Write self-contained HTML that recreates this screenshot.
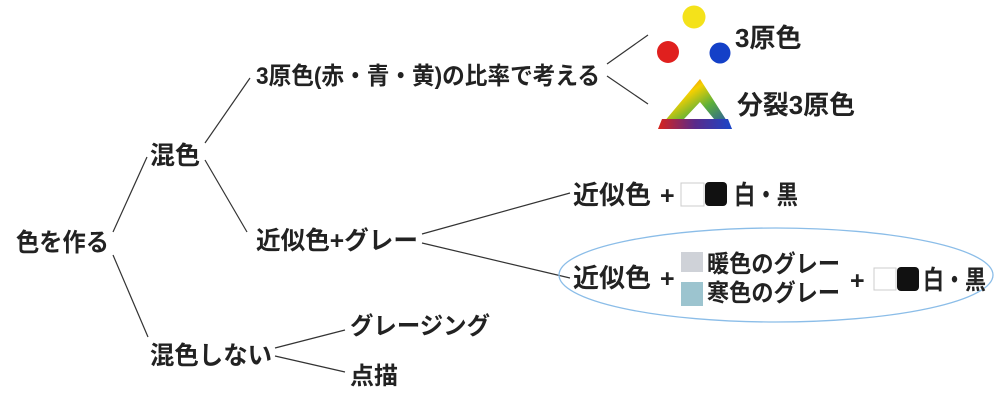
<!DOCTYPE html>
<html><head><meta charset="utf-8"><style>
html,body{margin:0;padding:0;background:#fff;width:1000px;height:401px;overflow:hidden}
svg{display:block}
text{font-family:"Liberation Sans","Noto Sans CJK JP",sans-serif;font-weight:bold;fill:#222}
</style></head><body>
<svg width="1000" height="401" viewBox="0 0 1000 401" xmlns="http://www.w3.org/2000/svg">
<defs>
<linearGradient id="tg" x1="0" y1="0" x2="1" y2="1">
<stop offset="0" stop-color="#e8201c"/><stop offset="0.35" stop-color="#f5d000"/><stop offset="0.6" stop-color="#5bb03a"/><stop offset="1" stop-color="#1a3fbf"/>
</linearGradient>
<linearGradient id="tb" x1="0" y1="0" x2="1" y2="0">
<stop offset="0" stop-color="#d8241c"/><stop offset="0.5" stop-color="#5a2a8a"/><stop offset="1" stop-color="#1a46c8"/>
</linearGradient>
</defs>
<g stroke="#333" stroke-width="1.2" fill="none">
<line x1="113" y1="232" x2="147" y2="157"/>
<line x1="113" y1="255" x2="148" y2="337"/>
<line x1="205" y1="143" x2="250" y2="78"/>
<line x1="205" y1="160" x2="247" y2="232"/>
<line x1="422" y1="234" x2="570" y2="193"/>
<line x1="422" y1="243" x2="570" y2="278"/>
<line x1="275" y1="348" x2="345" y2="330"/>
<line x1="275" y1="356" x2="345" y2="372"/>
<line x1="607" y1="64" x2="648" y2="35"/>
<line x1="607" y1="76" x2="648" y2="104"/>
</g>
<ellipse cx="776" cy="275" rx="217" ry="47" fill="none" stroke="#8bbde8" stroke-width="1.3"/>
<circle cx="694" cy="17" r="11.5" fill="#f4e21a"/>
<circle cx="668" cy="52" r="11" fill="#e0201e"/>
<circle cx="720" cy="53" r="10.5" fill="#1440c8"/>
<path d="M700 79 L732 129 L658 129 Z M700 102 L714 119 L684 119 Z" fill="url(#tg)" fill-rule="evenodd"/>
<path d="M662 119 L728 119 L732 129 L658 129 Z" fill="url(#tb)"/>
<text x="16" y="251" font-size="25" textLength="93" lengthAdjust="spacingAndGlyphs">色を作る</text>
<text x="150" y="164" font-size="25">混色</text>
<text x="150" y="364" font-size="25" textLength="122" lengthAdjust="spacingAndGlyphs">混色しない</text>
<text x="256" y="84" font-size="24" textLength="344" lengthAdjust="spacingAndGlyphs">3原色(赤・青・黄)の比率で考える</text>
<text x="256" y="249" font-size="25" textLength="162" lengthAdjust="spacingAndGlyphs">近似色+グレー</text>
<text x="350" y="334" font-size="24" textLength="140" lengthAdjust="spacingAndGlyphs">グレージング</text>
<text x="350" y="384" font-size="24">点描</text>
<text x="735" y="47" font-size="26">3原色</text>
<text x="737" y="114" font-size="26" textLength="118" lengthAdjust="spacingAndGlyphs">分裂3原色</text>
<text x="573" y="204" font-size="26">近似色</text>
<text x="660" y="204" font-size="25">+</text>
<rect x="681" y="183" width="23" height="23" fill="#fff" stroke="#ccc"/>
<rect x="705" y="182" width="22" height="24" rx="4" fill="#111"/>
<text x="734" y="204" font-size="26" textLength="64" lengthAdjust="spacingAndGlyphs">白・黒</text>
<text x="573" y="287" font-size="26">近似色</text>
<text x="660" y="287" font-size="25">+</text>
<rect x="681" y="252" width="22" height="20" fill="#cfd2d8"/>
<rect x="681" y="282" width="22" height="24" fill="#9cc4cf"/>
<text x="707" y="272" font-size="24" textLength="133" lengthAdjust="spacingAndGlyphs">暖色のグレー</text>
<text x="707" y="301" font-size="24" textLength="133" lengthAdjust="spacingAndGlyphs">寒色のグレー</text>
<text x="850" y="289" font-size="25">+</text>
<rect x="874" y="268" width="22" height="22" fill="#fff" stroke="#ccc"/>
<rect x="897" y="267" width="22" height="24" rx="4" fill="#111"/>
<text x="923" y="289" font-size="26" textLength="63" lengthAdjust="spacingAndGlyphs">白・黒</text>
</svg>
</body></html>
